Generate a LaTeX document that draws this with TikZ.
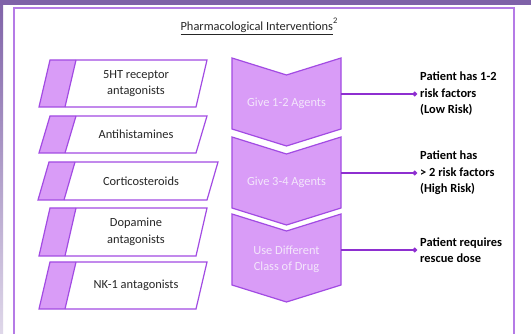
\documentclass[tikz,border=0pt]{standalone}
\usepackage{fontspec}
\setmainfont{Carlito}
\usetikzlibrary{arrows.meta,positioning}
\usepackage{xcolor}
\definecolor{bandpurple}{HTML}{7F62A8}
\definecolor{framepurple}{HTML}{B57BE6}
\definecolor{boxline}{HTML}{A24BE3}
\definecolor{boxfill}{HTML}{D99CF7}
\definecolor{chevtextcol}{HTML}{F3E6FB}
\definecolor{linkpurple}{HTML}{8E2FD0}
\definecolor{darktext}{HTML}{262626}
\newcommand{\drugbox}[5]{%
  \begin{scope}[shift={(#2)}]
    \fill[boxfill] (0,0) -- (26,0) -- (15,#4) -- (-11,#4) -- cycle;
    \draw[boxline,line width=1.2pt] (0,0) -- (#3,0) -- ({#3-11},#4) -- (-11,#4) -- cycle;
    \draw[boxline,line width=1.2pt] (26,0) -- (15,#4);
    \node[drugtext] (#1) at ({(#3+26)/2-5.5},{#4/2}) {#5};
  \end{scope}
}
\newcommand{\agentchevron}[3]{%
  \begin{scope}[shift={(#2)}]
    \draw[fill=boxfill,draw=boxline,line width=1.2pt] (0,0) -- (54.5,17) -- (109,0) -- (109,71) -- (54.5,88) -- (0,71) -- cycle;
    \node[chevtext] (#1) at (54.5,45.5) {#3};
    \coordinate (#1-east) at (109,36);
  \end{scope}
}

\begin{document}
\begin{tikzpicture}[
    x=1pt, y=-1pt,
    drugtext/.style={align=center, text=darktext, font=\fontsize{12.4}{16.5}\selectfont},
    chevtext/.style={align=center, text=chevtextcol, font=\fontsize{12.4}{16.5}\selectfont},
    risktext/.style={anchor=west, align=left, inner sep=3pt, font=\fontsize{12.4}{16.5}\selectfont\bfseries},
    link/.style={linkpurple, line width=1.3pt, -{Circle[length=4.5pt]}}
]
    \useasboundingbox (0,0) rectangle (531,334);
    % page background and frame
    \fill[white] (0,0) rectangle (531,334);
    \shade[top color=bandpurple, bottom color=bandpurple!25] (0,0) rectangle (3,334);
    \fill[bandpurple] (0,0) rectangle (531,5);
    \draw[framepurple, line width=1.6pt] (14,334) -- (14,8) -- (514,8) -- (514,334);

    \node[text=darktext, font=\fontsize{12.4}{15}\selectfont] (title) at (259,26) {\underline{Pharmacological Interventions}\raisebox{7pt}{\fontsize{8.5}{9}\selectfont 2}};

    % drug classes
    \drugbox{ht5}{50,60}{157}{47}{5HT receptor\\antagonists}
    \drugbox{antihist}{50,116}{157}{37}{Antihistamines}
    \drugbox{cortico}{49,162}{169}{38}{Corticosteroids}
    \drugbox{dopamine}{50,208}{157}{48}{Dopamine\\antagonists}
    \drugbox{nk1}{50,262}{157}{47}{NK-1 antagonists}

    % steps
    \agentchevron{give12}{232,58}{Give 1-2 Agents}
    \agentchevron{give34}{232,137}{Give 3-4 Agents}
    \agentchevron{diffclass}{232,214}{Use Different\\Class of Drug}

    \node[risktext] (risk1) at (417,94)  {Patient has 1-2\\risk factors\\(Low Risk)};
    \node[risktext] (risk2) at (417,173) {Patient has\\> 2 risk factors\\(High Risk)};
    \node[risktext] (risk3) at (417,250) {Patient requires\\rescue dose};

    \draw[link] (give12-east) -- (risk1.west);
    \draw[link] (give34-east) -- (risk2.west);
    \draw[link] (diffclass-east) -- (risk3.west);
\end{tikzpicture}
\end{document}
